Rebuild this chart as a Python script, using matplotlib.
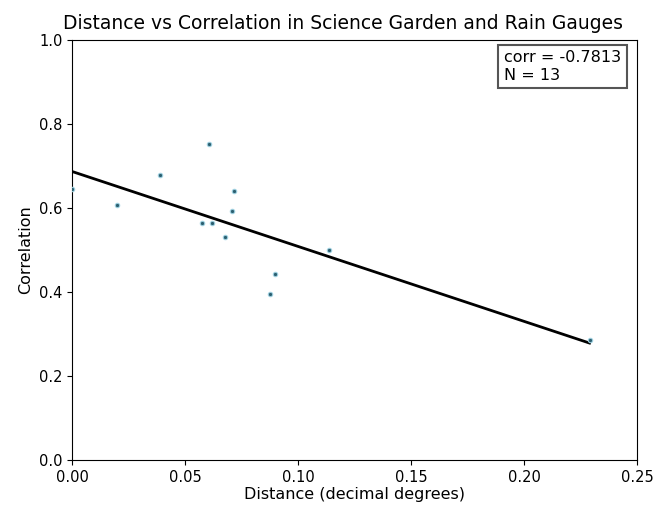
import numpy as np
import matplotlib.pyplot as plt

# distance (decimal degrees) vs correlation
distance = [0.000, 0.020, 0.039, 0.0606, 0.0575, 0.062, 0.0677, 0.0708, 0.0717,
            0.0898, 0.0876, 0.1137, 0.229]
correlation = [0.645, 0.607, 0.679, 0.752, 0.564, 0.564, 0.531, 0.593, 0.640,
               0.443, 0.395, 0.499, 0.286]
corr_text = "corr = -0.7813\nN = 13"

x = np.array(distance)
y = np.array(correlation)
slope, intercept = np.polyfit(x, y, 1)
xl = np.array([x.min(), x.max()])

fig = plt.figure(figsize=(6.56, 5.08), dpi=100)
ax = fig.add_axes([0.11, 0.0945, 0.861, 0.827])

ax.scatter(x, y, s=10, color='#2b5f70', edgecolor='#9fd0e0', linewidth=0.8, zorder=3)
ax.plot(xl, intercept + slope * xl, color='black', linewidth=2)

ax.text(0.972, 0.975, corr_text, transform=ax.transAxes, ha='right', va='top',
        multialignment='left', fontsize=11.5,
        bbox=dict(facecolor='white', edgecolor='#555555', linewidth=1.5, pad=4))

ax.set_xlim(0, 0.25)
ax.set_ylim(0, 1.0)
ax.tick_params(labelsize=10.5)
ax.set_title("Distance vs Correlation in Science Garden and Rain Gauges",
             fontsize=13.5, pad=8, x=0.48)
ax.set_xlabel("Distance (decimal degrees)", fontsize=11.5, labelpad=2)
ax.set_ylabel("Correlation", fontsize=11.5)

fig.savefig('out.png', dpi=100)
